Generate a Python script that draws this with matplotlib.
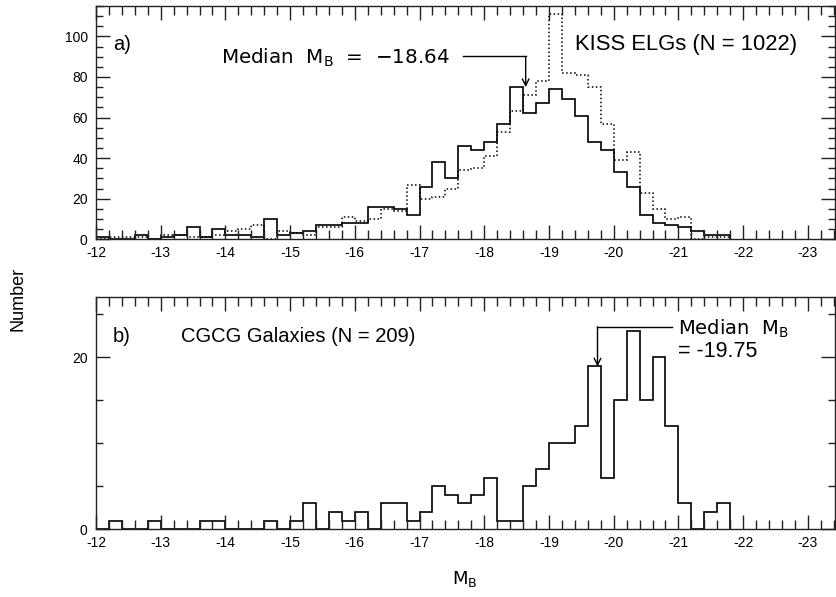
import numpy as np
import matplotlib
matplotlib.use("Agg")
import matplotlib.pyplot as plt
from matplotlib.ticker import MultipleLocator

plt.rcParams["font.family"] = ["Liberation Sans", "DejaVu Sans"]
plt.rcParams["axes.unicode_minus"] = False

# histogram bins: 0.2 mag wide, starting at M_B = -12 and going brighter
bin_start = -12.0
bin_width = 0.2

# a) KISS ELGs (solid) and comparison sample (dotted), bins -12.0 ... -21.8
kiss_counts = [1, 0, 0, 2, 0, 1, 2, 6, 1, 5, 2, 2, 1, 10, 2, 3,
               4, 7, 7, 8, 8, 16, 16, 15, 12, 26, 38, 30, 46, 44,
               48, 57, 75, 62, 67, 74, 69, 61, 48, 44, 33, 26, 12, 8,
               7, 6, 4, 2, 2]
comp_counts = [0, 1, 1, 1, 0, 2, 2, 1, 1, 2, 4, 5, 7, 0, 4, 3,
               2, 6, 6, 11, 9, 10, 15, 14, 27, 20, 21, 25, 34, 35,
               41, 53, 63, 71, 78, 111, 82, 81, 75, 57, 39, 43, 23, 15,
               10, 11, 0, 1, 1]

# b) CGCG galaxies, same bins
cgcg_counts = [0, 1, 0, 0, 1, 0, 0, 0, 1, 1, 0, 0, 0, 1, 0, 1,
               3, 0, 2, 1, 2, 0, 3, 3, 1, 2, 5, 4, 3, 4,
               6, 1, 1, 5, 7, 10, 10, 12, 19, 6, 15, 23, 15, 20,
               12, 3, 0, 2, 3]

x_ticks = [-12, -13, -14, -15, -16, -17, -18, -19, -20, -21, -22, -23]
median_kiss = -18.64
median_cgcg = -19.75


def edges_for(counts):
    return bin_start - bin_width * np.arange(len(counts) + 1)


def style_axis(ax, ymax):
    ax.set_xlim(-12, -23.42)
    ax.set_ylim(0, ymax)
    ax.set_xticks(x_ticks)
    ax.set_xticklabels([str(t) for t in x_ticks])
    ax.xaxis.set_minor_locator(MultipleLocator(0.2))
    ax.yaxis.set_major_locator(MultipleLocator(20))
    ax.yaxis.set_minor_locator(MultipleLocator(5))
    ax.tick_params(which="both", direction="in", top=True, right=True,
                   labelsize=10, width=1.0, color="#222222")
    ax.tick_params(axis="x", pad=5)
    ax.tick_params(axis="y", pad=6)
    ax.tick_params(which="major", length=10)
    ax.tick_params(which="minor", length=6.5)
    ax.tick_params(axis="y", which="minor", length=5)
    for s in ax.spines.values():
        s.set_linewidth(1.0)
        s.set_color("#222222")


fig = plt.figure(figsize=(8.36, 5.97), dpi=100)
ax1 = fig.add_axes([0.1148, 0.5992, 0.884, 0.3908])
ax2 = fig.add_axes([0.1148, 0.1134, 0.884, 0.3896])

# ---- panel a
ax1.stairs(comp_counts, edges_for(comp_counts), color="black",
           linewidth=1.1, linestyle=(0, (1, 1.6)))
ax1.stairs(kiss_counts, edges_for(kiss_counts), color="black", linewidth=1.2)
style_axis(ax1, 115)

ax1.text(-12.26, 93.5, "a)", fontsize=14.5, va="baseline", ha="left")
ax1.text(-19.40, 93.5, "KISS ELGs (N = 1022)", fontsize=15.8,
         va="baseline", ha="left")
ax1.text(-17.47, 86.5, "Median  M$_{\\rm B}$  =  \u221218.64", fontsize=14.3,
         va="baseline", ha="right", family="DejaVu Sans")
ax1.plot([-17.67, median_kiss], [90.1, 90.1], color="black", lw=1.0)
ax1.annotate("", xy=(median_kiss, 75), xytext=(median_kiss, 90.1),
             arrowprops=dict(arrowstyle="->", lw=1.0, color="black",
                             shrinkA=0, shrinkB=0, mutation_scale=12))

# ---- panel b
ax2.stairs(cgcg_counts, edges_for(cgcg_counts), color="black", linewidth=1.2)
style_axis(ax2, 27)

ax2.text(-12.26, 21.7, "b)", fontsize=14.5, va="baseline", ha="left")
ax2.text(-13.31, 21.7, "CGCG Galaxies (N = 209)", fontsize=14.5,
         va="baseline", ha="left")
ax2.text(-21.0, 22.6, "Median  M$_{\\rm B}$", fontsize=14,
         va="baseline", ha="left", family="DejaVu Sans")
ax2.text(-21.0, 20.0, "= -19.75", fontsize=15.5, va="baseline", ha="left")
ax2.plot([-20.9, median_cgcg], [23.5, 23.5], color="black", lw=1.0)
ax2.annotate("", xy=(median_cgcg, 18.9), xytext=(median_cgcg, 23.5),
             arrowprops=dict(arrowstyle="->", lw=1.0, color="black",
                             shrinkA=0, shrinkB=0, mutation_scale=12))

fig.text(0.022, 0.5, "Number", rotation=90, fontsize=13,
         ha="center", va="center")
fig.text(0.556, 0.03, "M$_{\\rm B}$", fontsize=13, ha="center", va="center",
         family="DejaVu Sans")

fig.savefig("out.png", dpi=100)
plt.close(fig)
